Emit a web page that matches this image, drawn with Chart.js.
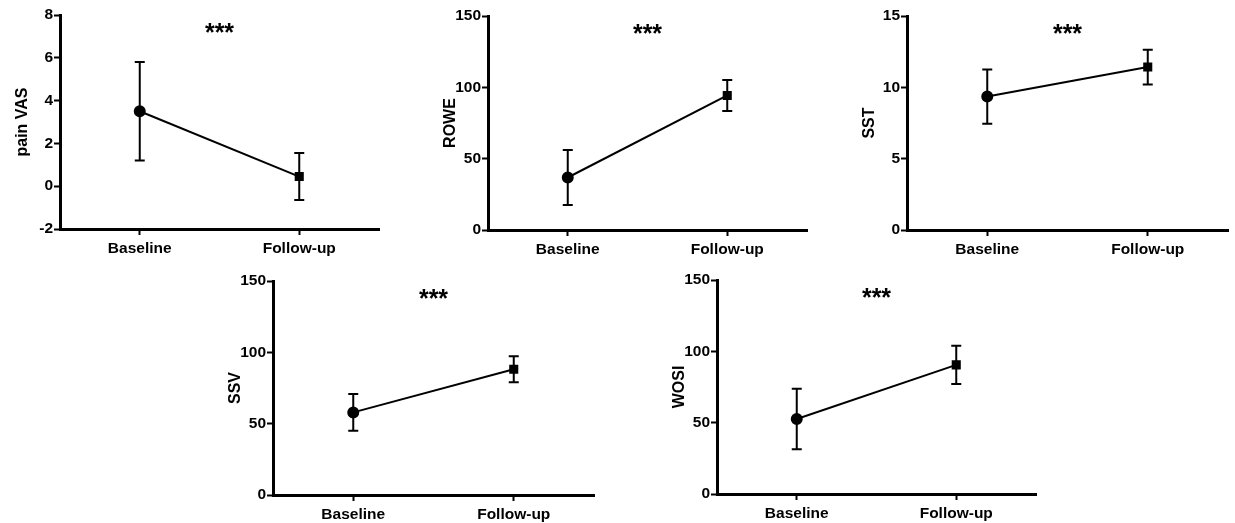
<!DOCTYPE html>
<html>
<head>
<meta charset="utf-8">
<script src="https://cdn.jsdelivr.net/npm/chart.js@4/dist/chart.umd.min.js"></script>
<style>
  body { margin: 0; background: #fff; }
  canvas { position: absolute; }
</style>
</head>
<body>
<script>
// categories
const groups = ["Baseline", "Follow-up"];

// means and SD
const painVasMean = [3.5, 0.45];
const painVasSd = [2.3, 1.1];
const roweMean = [36.8, 94.3];
const roweSd = [19.2, 10.9];
const sstMean = [9.35, 11.42];
const sstSd = [1.9, 1.22];
const ssvMean = [57.9, 88.2];
const ssvSd = [12.95, 9.1];
const wosiMean = [52.6, 90.5];
const wosiSd = [21.2, 13.4];

// y axis tick setup
const painVasTicks = { min: -2, max: 8, step: 2 };
const scoreTicks = { min: 0, max: 150, step: 50 };
const sstTicks = { min: 0, max: 15, step: 5 };

const FONT = "'Liberation Sans', Arial, sans-serif";
const Y_W = 60, X_H = 40, PAD_T = 15, PAD_R = 6;

const panels = [
  { title: "pain VAS", mean: painVasMean, sd: painVasSd, ticks: painVasTicks, box: [60, 380, 15, 229] },
  { title: "ROWE", mean: roweMean, sd: roweSd, ticks: scoreTicks, box: [488, 808, 15.5, 229.5] },
  { title: "SST", mean: sstMean, sd: sstSd, ticks: sstTicks, box: [907, 1229, 15.5, 229.5] },
  { title: "SSV", mean: ssvMean, sd: ssvSd, ticks: scoreTicks, box: [273, 595, 280.5, 495] },
  { title: "WOSI", mean: wosiMean, sd: wosiSd, ticks: scoreTicks, box: [717, 1037, 280, 494.5] },
];

const errorBars = {
  id: "errorBars",
  afterDatasetsDraw(chart, args, opts) {
    const { ctx, scales } = chart;
    const meta = chart.getDatasetMeta(0);
    ctx.save();
    ctx.strokeStyle = "#000";
    ctx.lineWidth = 2;
    meta.data.forEach((pt, i) => {
      const hi = scales.y.getPixelForValue(opts.mean[i] + opts.sd[i]);
      const lo = scales.y.getPixelForValue(opts.mean[i] - opts.sd[i]);
      ctx.beginPath();
      ctx.moveTo(pt.x, hi); ctx.lineTo(pt.x, lo);
      ctx.moveTo(pt.x - 5, hi); ctx.lineTo(pt.x + 5, hi);
      ctx.moveTo(pt.x - 5, lo); ctx.lineTo(pt.x + 5, lo);
      ctx.stroke();
    });
    ctx.restore();
  }
};

const stars = {
  id: "stars",
  afterDraw(chart) {
    const { ctx, chartArea } = chart;
    ctx.save();
    ctx.fillStyle = "#000";
    ctx.font = "bold 25px " + FONT;
    ctx.textAlign = "center";
    ctx.textBaseline = "middle";
    ctx.fillText("***", (chartArea.left + chartArea.right) / 2, chartArea.top + 19);
    ctx.restore();
  }
};

panels.forEach(p => {
  const [x0, x1, y0, y1] = p.box;
  const cv = document.createElement("canvas");
  cv.width = x1 - x0 + Y_W + PAD_R;
  cv.height = y1 - y0 + PAD_T + X_H;
  cv.style.left = (x0 - Y_W) + "px";
  cv.style.top = (y0 - PAD_T) + "px";
  document.body.appendChild(cv);

  new Chart(cv, {
    type: "line",
    data: {
      labels: groups,
      datasets: [
        {
          data: p.mean,
          borderColor: "#000",
          borderWidth: 2,
          backgroundColor: "#000",
          pointBackgroundColor: "#000",
          pointBorderColor: "#000",
          pointStyle: ["circle", "rect"],
          pointRadius: 5,
        },
      ],
    },
    options: {
      responsive: false,
      animation: false,
      events: [],
      plugins: {
        legend: false,
        tooltip: { enabled: false },
        errorBars: { mean: p.mean, sd: p.sd },
      },
      layout: {
        padding: { left: 0, right: PAD_R, top: PAD_T, bottom: 0 },
      },
      scales: {
        x: {
          offset: true,
          afterFit(s) { s.height = X_H; },
          border: { color: "#000", width: 3 },
          grid: { drawOnChartArea: false, drawTicks: true, tickLength: 6, tickWidth: 2, tickColor: "#000", offset: false },
          ticks: { color: "#000", padding: 4, font: { family: FONT, size: 15.5, weight: "bold" } },
        },
        y: {
          min: p.ticks.min,
          max: p.ticks.max,
          afterFit(s) { s.width = Y_W; },
          border: { color: "#000", width: 3 },
          grid: { drawOnChartArea: false, drawTicks: true, tickLength: 6, tickWidth: 2, tickColor: "#000" },
          ticks: { stepSize: p.ticks.step, color: "#000", padding: 1, font: { family: FONT, size: 15.5, weight: "bold" } },
          title: {
            display: true,
            text: p.title,
            color: "#000",
            padding: { top: 13, bottom: 0 },
            font: { family: FONT, size: 16, weight: "bold" },
          },
        },
      },
    },
    plugins: [errorBars, stars],
  });
});
</script>
</body>
</html>
